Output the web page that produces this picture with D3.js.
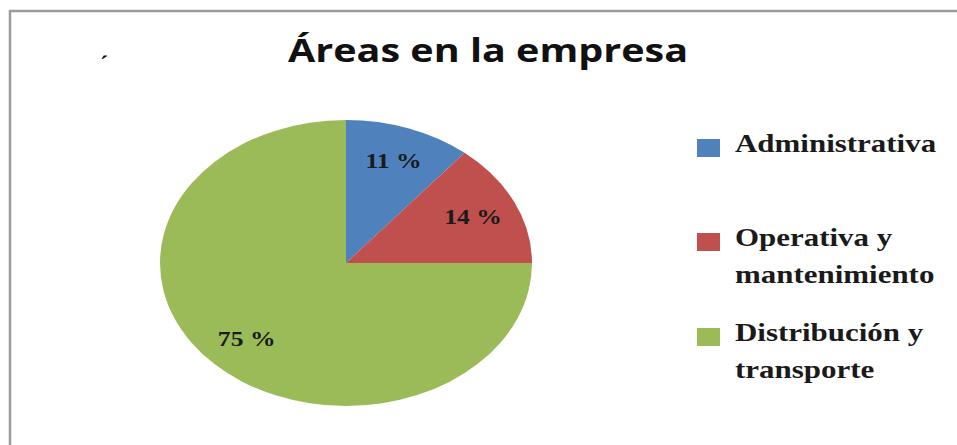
<!DOCTYPE html>
<html>
<head>
<meta charset="utf-8">
<script src="https://cdn.jsdelivr.net/npm/d3@7"></script>
<style>
  html, body { margin: 0; padding: 0; background: #fff; }
  svg { display: block; }
</style>
</head>
<body>
<svg id="chart" width="957" height="445"></svg>
<script>
// Chart data
const title = "Áreas en la empresa";
const categories = ["Administrativa", "Operativa y mantenimiento", "Distribución y transporte"];
const legendLines = [["Administrativa"], ["Operativa y", "mantenimiento"], ["Distribución y", "transporte"]];
const values = [11, 14, 75];
const valueLabels = ["11 %", "14 %", "75 %"];
const colors = ["#4F81BD", "#C0504D", "#9BBB59"];

const W = 957, H = 445;
const svg = d3.select("#chart");

svg.append("rect").attr("width", W).attr("height", H).attr("fill", "#fff");

// Frame (top and left edges visible)
svg.append("path")
  .attr("d", `M10,${H} V11 H${W}`)
  .attr("fill", "none")
  .attr("stroke", "#9c9c9c")
  .attr("stroke-width", 2.5);

// Stretch a text node horizontally by factor k
function stretch(sel, k) {
  sel.each(function () {
    const len = this.getComputedTextLength();
    d3.select(this).attr("textLength", len * k).attr("lengthAdjust", "spacingAndGlyphs");
  });
  return sel;
}

// Small stray accent mark
svg.append("text")
  .attr("x", 100).attr("y", 72)
  .attr("font-family", "Liberation Serif")
  .attr("font-weight", 700)
  .attr("font-size", 24)
  .attr("fill", "#111")
  .text("´");

// Title
svg.append("text")
  .attr("x", 488).attr("y", 62)
  .attr("text-anchor", "middle")
  .attr("font-family", "'Open Sans', sans-serif")
  .attr("font-weight", 700)
  .attr("font-size", 33)
  .attr("fill", "#111")
  .attr("textLength", 400)
  .attr("lengthAdjust", "spacingAndGlyphs")
  .text(title);

// Pie (drawn as an ellipse: circle scaled horizontally)
const cx = 346, cy = 263, ry = 143, rx = 186;
const sx = rx / ry;

const pie = d3.pie().sort(null).value(d => d);
const arcs = pie(values);
const arc = d3.arc().innerRadius(0).outerRadius(ry);
const labelArc = d3.arc().innerRadius(108).outerRadius(108);

const pieG = svg.append("g").attr("transform", `translate(${cx},${cy})`);
pieG.append("g")
  .attr("transform", `scale(${sx},1)`)
  .selectAll("path")
  .data(arcs)
  .join("path")
  .attr("d", arc)
  .attr("fill", (d, i) => colors[i]);

pieG.selectAll("text.lbl")
  .data(arcs)
  .join("text")
  .attr("class", "lbl")
  .attr("x", d => labelArc.centroid(d)[0] * sx)
  .attr("y", d => labelArc.centroid(d)[1] + 7)
  .attr("text-anchor", "middle")
  .attr("font-family", "'Liberation Serif', serif")
  .attr("font-weight", 700)
  .attr("font-size", 21)
  .attr("fill", "#1a1a1a")
  .text((d, i) => valueLabels[i])
  .call(stretch, 1.22);

// Legend
const legendX = 697;
const legendTops = [139, 233, 328];
const legend = svg.append("g");
legendLines.forEach((lines, i) => {
  const g = legend.append("g").attr("transform", `translate(${legendX},${legendTops[i]})`);
  g.append("rect")
    .attr("width", 23).attr("height", 18)
    .attr("fill", colors[i]);
  lines.forEach((line, j) => {
    g.append("text")
      .attr("x", 38)
      .attr("y", 13 + j * 37)
      .attr("font-family", "'Liberation Serif', serif")
      .attr("font-weight", 700)
      .attr("font-size", 26)
      .attr("fill", "#1a1a1a")
      .text(line)
      .call(stretch, 1.19);
  });
});
</script>
</body>
</html>
